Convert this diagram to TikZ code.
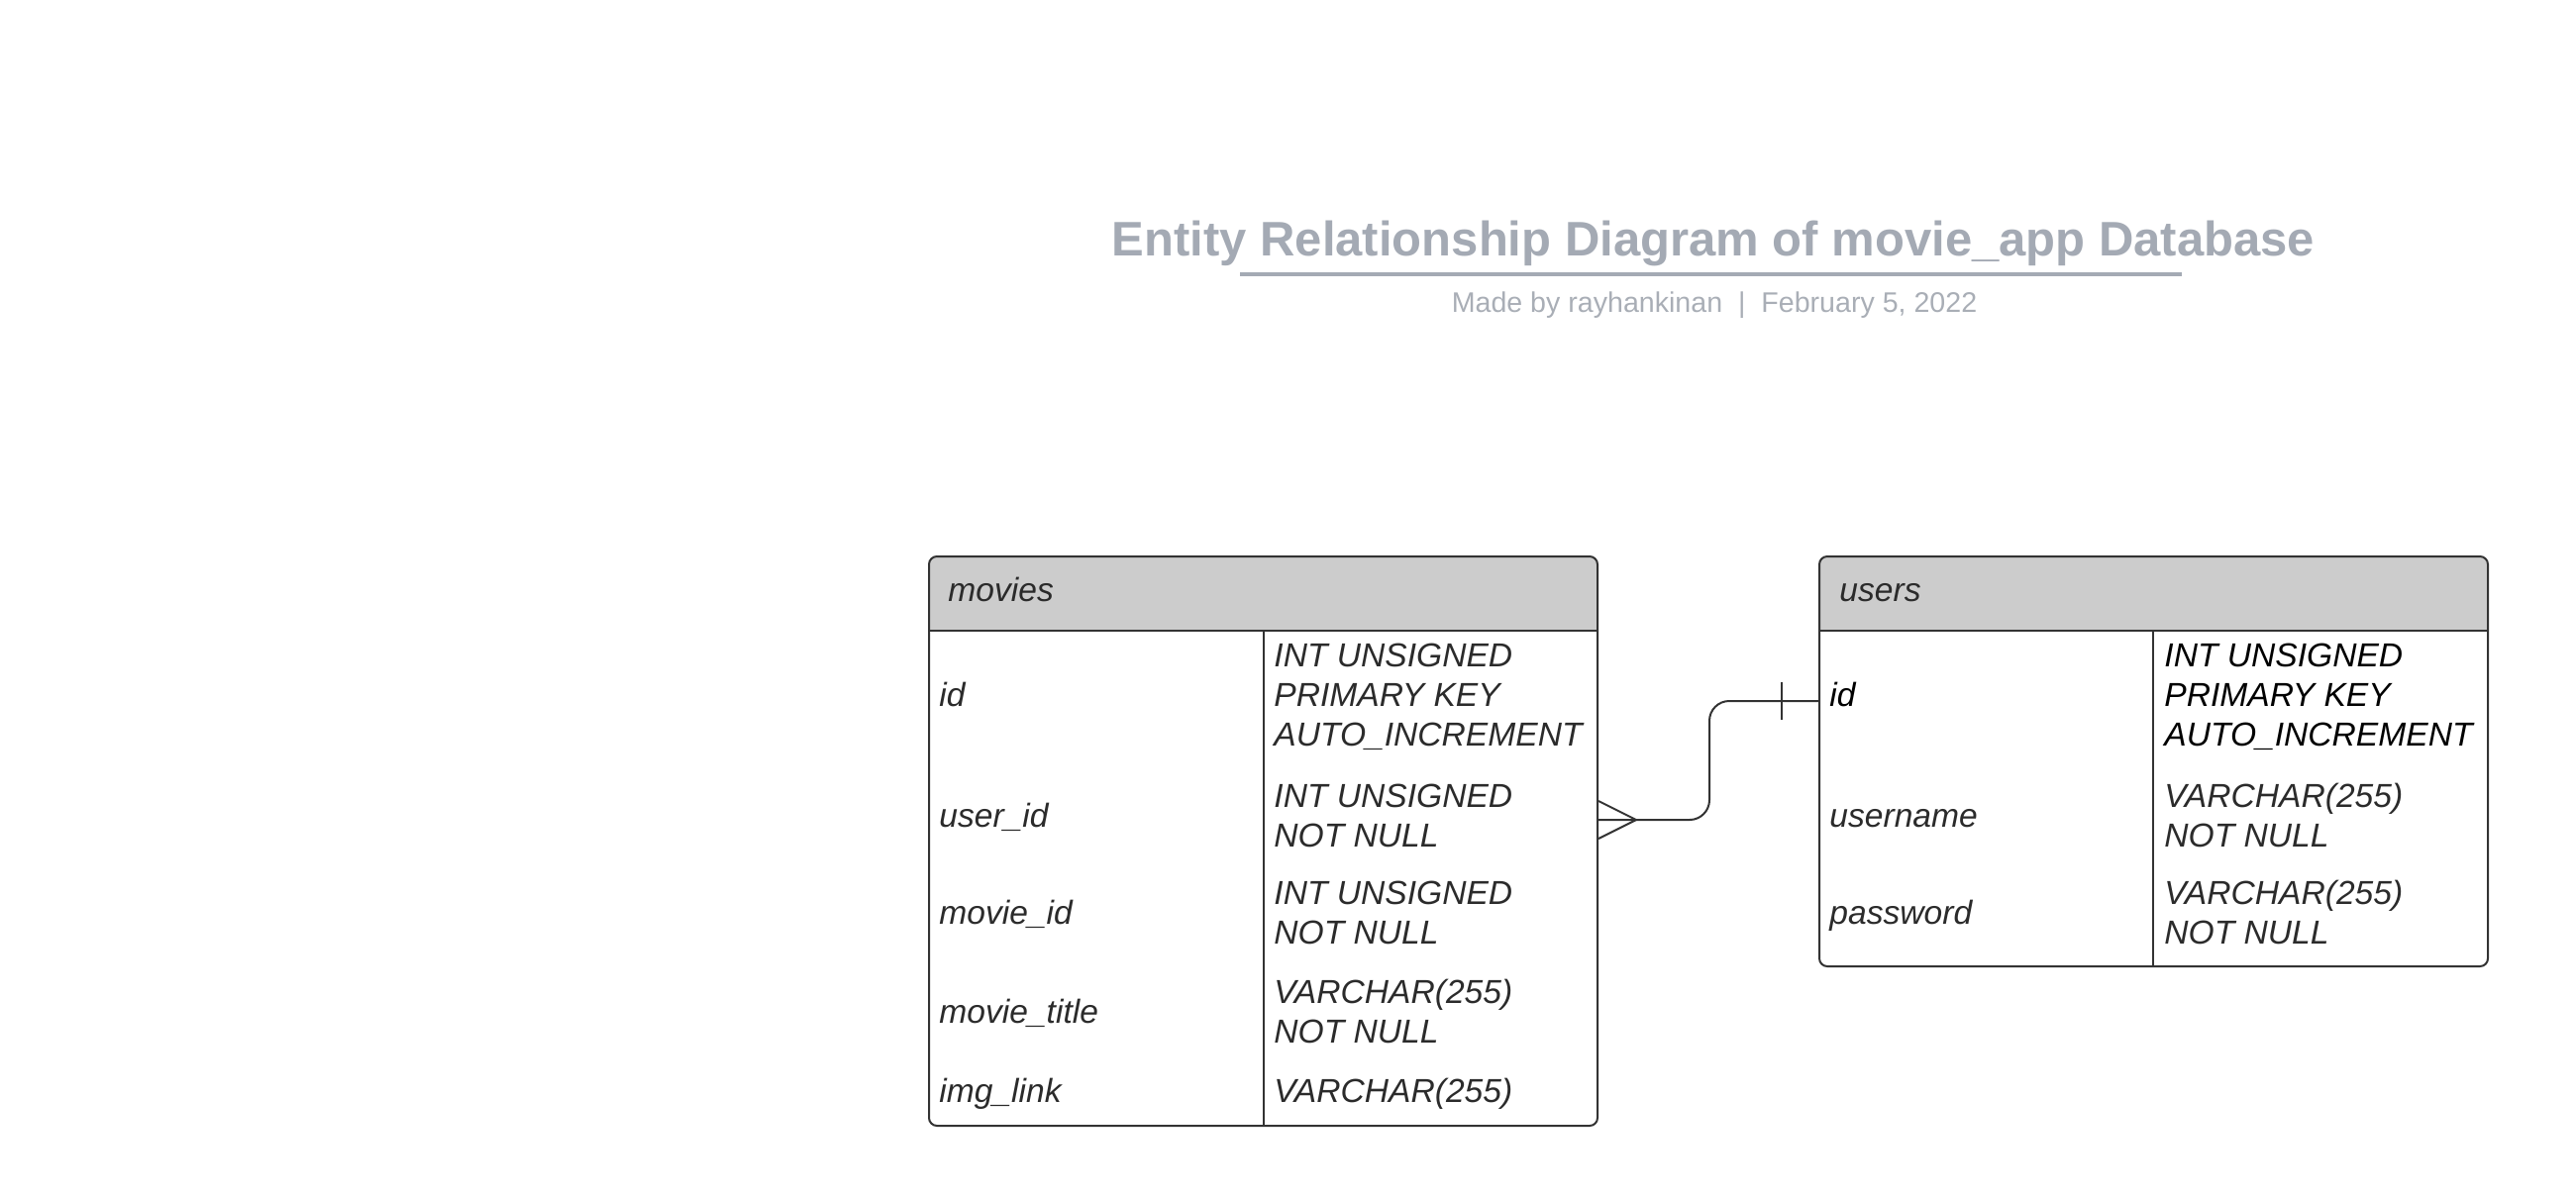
\documentclass[tikz,border=0pt]{standalone}
\usepackage{fontspec}
\setmainfont{Liberation Sans}
\definecolor{titlecol}{HTML}{A4AAB4}
\definecolor{subcol}{HTML}{A9AEB6}
\definecolor{hdrfill}{HTML}{CCCCCC}
\definecolor{linecol}{HTML}{333333}
\definecolor{txtcol}{HTML}{2B2B2B}
\tikzset{
  tbl/.style={draw=linecol, line width=1pt, rounded corners=4pt, inner sep=0pt},
  hdr/.style={fill=hdrfill, rounded corners=4pt},
  rule/.style={draw=linecol, line width=1pt},
  fld/.style={anchor=base west, inner sep=0pt, text=txtcol, font=\fontsize{16.8}{20}\selectfont\itshape},
  fldk/.style={fld, text=black},
  conn/.style={draw=linecol, line width=1pt},
}
\begin{document}
\begin{tikzpicture}[x=0.5pt,y=-0.5pt]
\useasboundingbox (0,0) rectangle (2601,1211);
% title
\node[anchor=base, inner sep=0pt, text=titlecol, font=\fontsize{24.5}{29}\selectfont\bfseries] (title) at (1730,258) {Entity Relationship Diagram of movie\_app Database};
\coordinate (ulA) at (1252,277);
\coordinate (ulB) at (2203,277);
\draw[titlecol, line width=2pt] (ulA) -- (ulB);
\node[anchor=base, inner sep=0pt, text=subcol, font=\fontsize{14.3}{17}\selectfont] (sub) at (1731,315) {Made by rayhankinan~~|~~February 5, 2022};

% movies table
\fill[hdr] (938,562) rectangle (1613,637);
\fill[hdrfill] (938,600) rectangle (1613,637);
\node[tbl, minimum width=337.5pt, minimum height=287.5pt] (movies) at (1275.5,849.5) {};
\draw[rule] (938,637) -- (1613,637);
\draw[rule] (1276,637) -- (1276,1137);
\node[fld] (mh) at (957,607) {movies};
\node[fld] (m1) at (948,713) {id};
\node[fld] (m1a) at (1286,673) {INT UNSIGNED};
\node[fld] (m1b) at (1286,713) {PRIMARY KEY};
\node[fld] (m1c) at (1286,753) {AUTO\_INCREMENT};
\node[fld] (m2) at (948,835) {user\_id};
\node[fld] (m2a) at (1286,815) {INT UNSIGNED};
\node[fld] (m2b) at (1286,855) {NOT NULL};
\node[fld] (m3) at (948,933) {movie\_id};
\node[fld] (m3a) at (1286,913) {INT UNSIGNED};
\node[fld] (m3b) at (1286,953) {NOT NULL};
\node[fld] (m4) at (948,1033) {movie\_title};
\node[fld] (m4a) at (1286,1013) {VARCHAR(255)};
\node[fld] (m4b) at (1286,1053) {NOT NULL};
\node[fld] (m5) at (948,1113) {img\_link};
\node[fld] (m5a) at (1286,1113) {VARCHAR(255)};

% users table
\fill[hdr] (1837,562) rectangle (2512,637);
\fill[hdrfill] (1837,600) rectangle (2512,637);
\node[tbl, minimum width=337.5pt, minimum height=207pt] (users) at (2174.5,769) {};
\draw[rule] (1837,637) -- (2512,637);
\draw[rule] (2174,637) -- (2174,976);
\node[fld] (uh) at (1857,607) {users};
\node[fldk] (u1) at (1847,713) {id};
\node[fldk] (u1a) at (2185,673) {INT UNSIGNED};
\node[fldk] (u1b) at (2185,713) {PRIMARY KEY};
\node[fldk] (u1c) at (2185,753) {AUTO\_INCREMENT};
\node[fld] (u2) at (1847,835) {username};
\node[fld] (u2a) at (2185,815) {VARCHAR(255)};
\node[fld] (u2b) at (2185,855) {NOT NULL};
\node[fld] (u3) at (1847,933) {password};
\node[fld] (u3a) at (2185,913) {VARCHAR(255)};
\node[fld] (u3b) at (2185,953) {NOT NULL};

% relationship
\coordinate (fk) at (movies.east |- 0,828);
\coordinate (pk) at (users.west |- 0,708);
\coordinate (bend) at (1726,828);
\coordinate (bend2) at (1726,708);
\draw[conn, rounded corners=10pt] (fk) -- (bend) -- (bend2) -- (pk);
\coordinate (cfA) at (movies.east |- 0,809);
\coordinate (cfT) at (1652,828);
\coordinate (cfB) at (movies.east |- 0,847);
\draw[conn] (cfA) -- (cfT) -- (cfB);
\coordinate (tkA) at (1799,689);
\coordinate (tkB) at (1799,727);
\draw[conn] (tkA) -- (tkB);
\end{tikzpicture}
\end{document}
